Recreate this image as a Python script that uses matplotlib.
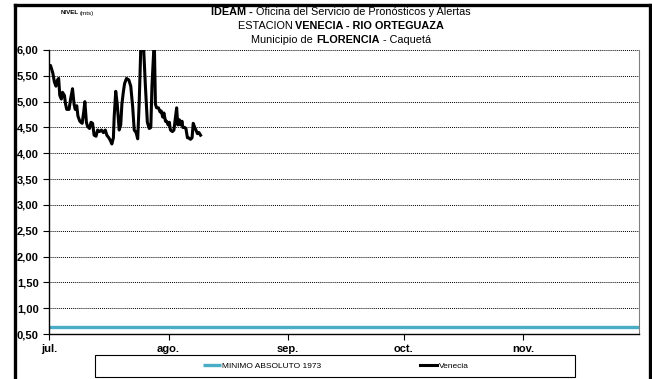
import numpy as np
import pandas as pd
import matplotlib
matplotlib.use('Agg')
import matplotlib.pyplot as plt
from matplotlib.lines import Line2D
from matplotlib.patches import Rectangle
from matplotlib.ticker import FuncFormatter

plt.rcParams['font.family'] = ['Liberation Sans Narrow', 'Liberation Sans', 'DejaVu Sans']

# datos: dias desde el 1 de julio, nivel en metros
START = pd.Timestamp('2012-07-01')
venecia_dias = [0.1, 0.4, 1.0, 1.4, 1.8, 2.2, 2.5, 2.8, 3.2, 3.5, 4.0, 4.3, 4.6, 5.2, 5.6,
                6.1, 6.5, 6.8, 7.2, 7.5, 8.0, 8.6, 9.0, 9.3, 9.7, 10.0, 10.5, 10.9, 11.3,
                11.7, 12.2, 12.6, 13.1, 13.6, 14.1, 14.6, 15.0, 15.5, 15.9, 16.3, 16.7,
                16.9, 17.3, 17.7, 18.2, 18.6, 18.9, 19.3, 19.6, 20.1, 20.7, 21.2, 21.7,
                22.1, 22.6, 23.0, 23.4, 23.9, 24.5, 25.0, 25.5, 26.0, 26.4, 26.7, 27.1,
                27.3, 27.6, 27.9, 28.4, 28.8, 29.1, 29.5, 29.8, 30.2, 30.5, 30.9, 31.2,
                31.5, 32.0, 32.4, 32.8, 33.1, 33.4, 33.8, 34.1, 34.5, 34.7, 35.2, 35.5,
                35.9, 36.2, 36.7, 37.1, 37.4, 37.8, 38.1, 38.5, 38.9, 39.3]
venecia_nivel = [5.68, 5.70, 5.55, 5.38, 5.30, 5.42, 5.45, 5.12, 5.05, 5.18, 5.12, 4.95, 4.85,
                 4.85, 5.05, 5.25, 4.95, 4.85, 4.92, 4.72, 4.62, 4.58, 4.80, 5.00, 4.60,
                 4.52, 4.48, 4.60, 4.58, 4.35, 4.33, 4.45, 4.42, 4.45, 4.40, 4.45, 4.35,
                 4.30, 4.25, 4.18, 4.30, 4.70, 5.20, 4.95, 4.45, 4.55, 4.95, 5.20, 5.35,
                 5.45, 5.42, 5.30, 4.90, 4.45, 4.40, 4.28, 5.00, 6.30, 6.10, 5.30, 4.60,
                 4.48, 4.50, 5.30, 5.90, 6.20, 4.95, 4.88, 4.88, 4.80, 4.82, 4.70, 4.78,
                 4.62, 4.62, 4.55, 4.60, 4.45, 4.42, 4.45, 4.70, 4.88, 4.55, 4.65, 4.55,
                 4.62, 4.50, 4.50, 4.48, 4.30, 4.30, 4.27, 4.30, 4.58, 4.50, 4.45, 4.38,
                 4.40, 4.35]
minimo_1973 = 0.63
meses = ['jul.', 'ago.', 'sep.', 'oct.', 'nov.']
fechas_meses = pd.date_range('2012-07-01', periods=5, freq='MS')

W, H = 652, 379
fig = plt.figure(figsize=(W / 100, H / 100), dpi=100)
ax = fig.add_axes([49 / W, 1 - 334 / H, (639 - 49) / W, (334 - 50) / H])

fechas = START + pd.to_timedelta(venecia_dias, unit='D')
ax.plot([pd.Timestamp('2012-07-01'), pd.Timestamp('2012-12-01')], [minimo_1973, minimo_1973],
        color='#4BACC6', lw=2.4, label='MINIMO ABSOLUTO 1973', solid_capstyle='butt')
ax.plot(fechas, venecia_nivel, color='black', lw=2.2, label='Venecia')

ax.set_xlim(pd.Timestamp('2012-07-01'), pd.Timestamp('2012-12-01'))
ax.set_ylim(0.5, 6.0)
ax.set_yticks(np.arange(0.5, 6.01, 0.5))
ax.yaxis.set_major_formatter(FuncFormatter(lambda v, p: f'{v:.2f}'.replace('.', ',')))
ax.set_xticks(fechas_meses)
ax.set_xticklabels(meses)
ax.tick_params(axis='both', direction='out', length=4, width=0.8, labelsize=8)
ax.tick_params(axis='x', pad=3)
for lab in ax.get_xticklabels() + ax.get_yticklabels():
    lab.set_fontweight('bold')
    lab.set_family(['Liberation Sans', 'DejaVu Sans'])

ax.grid(axis='y', color='black', linestyle=(0, (1, 1)), lw=0.7)
ax.spines['top'].set_visible(False)
ax.spines['right'].set_color('#808080')
ax.spines['right'].set_linewidth(0.8)
ax.spines['left'].set_linewidth(1.0)
ax.spines['bottom'].set_linewidth(1.0)

# marco exterior
for xs, ys in [([14.5, 14.5], [H, 4.5]), ([14.5, 649.5], [4.5, 4.5]), ([649.5, 649.5], [4.5, H])]:
    fig.add_artist(Line2D([x / W for x in xs], [1 - y / H for y in ys], color='black', lw=2.4))

# titulo con partes en negrita
renderer = fig.canvas.get_renderer()


def rich_line(y, parts, size, cx=341):
    objs = []
    total = 0
    for s, weight in parts:
        t = fig.text(0, 1 - y / H, s, fontsize=size, fontweight=weight, va='center', ha='left')
        w = t.get_window_extent(renderer).width
        objs.append((t, w))
        total += w
    x = cx - total / 2
    for t, w in objs:
        t.set_x(x / W)
        x += w


rich_line(12, [('IDEAM - ', 'bold'), ('Oficina del Servicio de Pronósticos y Alertas', 'normal')], 7.8)
rich_line(26, [('ESTACION ', 'normal'), ('VENECIA - RIO ORTEGUAZA', 'bold')], 7.8)
rich_line(40, [('Municipio de ', 'normal'), ('FLORENCIA', 'bold'), (' - Caquetá', 'normal')], 7.8)

fig.text(61 / W, 1 - 13 / H, 'NIVEL', fontsize=4.5, fontweight='bold', va='center')
fig.text(80 / W, 1 - 13 / H, '(mts)', fontsize=4.5, va='center')

# leyenda
fig.add_artist(Rectangle((95 / W, 1 - 377 / H), 480 / W, 22 / H, transform=fig.transFigure,
                         fill=False, edgecolor='black', lw=0.8))
fig.legend(loc='center', bbox_to_anchor=(336 / W, 1 - 366 / H), ncol=2, frameon=False,
           fontsize=6, handlelength=2.1, handletextpad=0.2, columnspacing=11.8)

fig.savefig('out.png', dpi=100)
